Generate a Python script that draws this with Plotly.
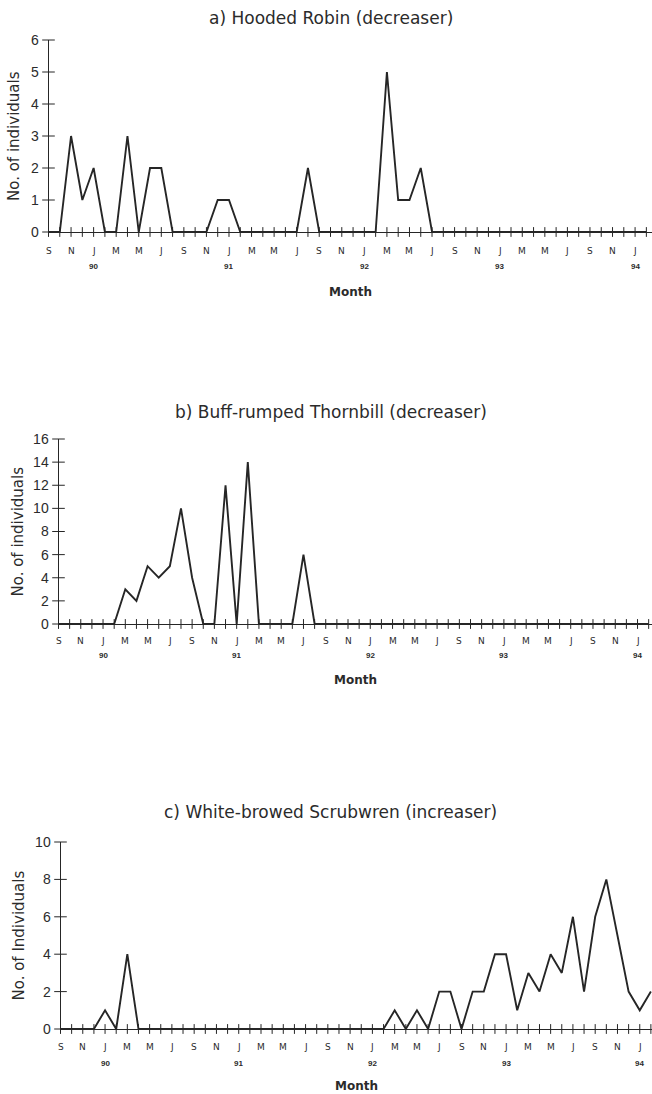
import plotly.graph_objects as go

# Monthly counts, September 1989 .. February 1994 (54 months)
n_months = 54
month_index = list(range(n_months))
month_letters = ["S", "N", "J", "M", "M", "J", "S", "N", "J", "M", "M", "J",
                 "S", "N", "J", "M", "M", "J", "S", "N", "J", "M", "M", "J",
                 "S", "N", "J"]
year_labels = ["90", "91", "92", "93", "94"]
year_positions = [4, 16, 28, 40, 52]

hooded_robin = [0, 0, 3, 1, 2, 0, 0, 3, 0, 2, 2, 0,
                0, 0, 0, 1, 1, 0, 0, 0, 0, 0, 0, 2,
                0, 0, 0, 0, 0, 0, 5, 1, 1, 2, 0, 0,
                0, 0, 0, 0, 0, 0, 0, 0, 0, 0, 0, 0,
                0, 0, 0, 0, 0, 0]
buff_rumped_thornbill = [0, 0, 0, 0, 0, 0, 3, 2, 5, 4, 5, 10,
                         4, 0, 0, 12, 0, 14, 0, 0, 0, 0, 6, 0,
                         0, 0, 0, 0, 0, 0, 0, 0, 0, 0, 0, 0,
                         0, 0, 0, 0, 0, 0, 0, 0, 0, 0, 0, 0,
                         0, 0, 0, 0, 0, 0]
white_browed_scrubwren = [0, 0, 0, 0, 1, 0, 4, 0, 0, 0, 0, 0,
                          0, 0, 0, 0, 0, 0, 0, 0, 0, 0, 0, 0,
                          0, 0, 0, 0, 0, 0, 1, 0, 1, 0, 2, 2,
                          0, 2, 2, 4, 4, 1, 3, 2, 4, 3, 6, 2,
                          6, 8, 5, 2, 1, 2]

W, H = 652, 1094
INK = "#262626"
TXT = "#2b2b2b"


def py(px):
    return 1 - px / H


panels = [
    dict(title="a) Hooded Robin (decreaser)", ytitle="No. of individuals", data=hooded_robin,
         left=48.5, top=40, bottom=232, ymax=6, ydtick=1, xmax=53.5,
         title_y=18, ytitle_x=14, letters_y=251, years_y=266, month_y=292, month_x=350),
    dict(title="b) Buff-rumped Thornbill (decreaser)", ytitle="No. of individuals", data=buff_rumped_thornbill,
         left=58.5, top=439, bottom=624, ymax=16, ydtick=2, xmax=53.3,
         title_y=412, ytitle_x=17, letters_y=641, years_y=655, month_y=680, month_x=355),
    dict(title="c) White-browed Scrubwren (increaser)", ytitle="No. of Individuals", data=white_browed_scrubwren,
         left=60.5, top=842, bottom=1029, ymax=10, ydtick=2, xmax=53.1,
         title_y=812, ytitle_x=18, letters_y=1047, years_y=1063, month_y=1086, month_x=356),
]

fig = go.Figure()
annotations = []
layout_axes = {}

for k, p in enumerate(panels, start=1):
    xa = "x" if k == 1 else f"x{k}"
    ya = "y" if k == 1 else f"y{k}"
    xkey = "xaxis" if k == 1 else f"xaxis{k}"
    ykey = "yaxis" if k == 1 else f"yaxis{k}"
    yticks = list(range(0, p["ymax"] + 1, p["ydtick"]))

    # data line
    fig.add_trace(go.Scatter(x=month_index, y=p["data"], mode="lines",
                             line=dict(color=INK, width=1.9), xaxis=xa, yaxis=ya,
                             showlegend=False, hoverinfo="skip"))
    # cross-shaped monthly ticks on the x axis
    fig.add_trace(go.Scatter(x=month_index, y=[0] * n_months, mode="markers",
                             marker=dict(symbol="line-ns", size=7,
                                         line=dict(color=INK, width=1)),
                             cliponaxis=False, xaxis=xa, yaxis=ya,
                             showlegend=False, hoverinfo="skip"))
    # cross-shaped ticks on the y axis
    fig.add_trace(go.Scatter(x=[0] * len(yticks), y=yticks, mode="markers",
                             marker=dict(symbol="line-ew", size=9,
                                         line=dict(color=INK, width=1)),
                             cliponaxis=False, xaxis=xa, yaxis=ya,
                             showlegend=False, hoverinfo="skip"))

    layout_axes[xkey] = dict(domain=[p["left"] / W, 1], range=[0, p["xmax"]],
                             showline=True, linecolor=INK, linewidth=1,
                             showgrid=False, zeroline=False, ticks="",
                             showticklabels=False, anchor=ya, fixedrange=True,
                             automargin=False)
    layout_axes[ykey] = dict(domain=[py(p["bottom"]), py(p["top"])],
                             range=[0, p["ymax"]], tickvals=yticks,
                             showline=True, linecolor=INK, linewidth=1,
                             showgrid=False, zeroline=False, ticks="",
                             ticklabelstandoff=6,
                             tickfont=dict(family="Liberation Sans", size=14, color=TXT),
                             anchor=xa, fixedrange=True, automargin=False)

    # panel title
    annotations.append(dict(text=p["title"], x=0.507, y=py(p["title_y"]),
                            xref="paper", yref="paper", xanchor="center", yanchor="middle",
                            showarrow=False,
                            font=dict(family="DejaVu Sans", size=17, color=TXT)))
    # y title
    annotations.append(dict(text=p["ytitle"], x=p["ytitle_x"] / W,
                            y=py((p["top"] + p["bottom"]) / 2),
                            xref="paper", yref="paper", xanchor="center", yanchor="middle",
                            textangle=-90, showarrow=False,
                            font=dict(family="DejaVu Sans", size=15, color=TXT)))
    # month letters (every second month)
    for j, letter in enumerate(month_letters):
        annotations.append(dict(text=letter, x=month_index[2 * j], y=py(p["letters_y"]),
                                xref=xa, yref="paper", xanchor="center", yanchor="middle",
                                showarrow=False,
                                font=dict(family="DejaVu Sans", size=9, color=TXT)))
    # year labels
    for yl, pos in zip(year_labels, year_positions):
        annotations.append(dict(text=f"<b>{yl}</b>", x=month_index[pos], y=py(p["years_y"]),
                                xref=xa, yref="paper", xanchor="center", yanchor="middle",
                                showarrow=False,
                                font=dict(family="Liberation Sans", size=8, color=TXT)))
    # x title
    annotations.append(dict(text="<b>Month</b>", x=p["month_x"] / W, y=py(p["month_y"]),
                            xref="paper", yref="paper", xanchor="center", yanchor="middle",
                            showarrow=False,
                            font=dict(family="DejaVu Sans", size=12, color=TXT)))

fig.update_layout(template="none", width=W, height=H,
                  margin=dict(l=0, r=0, t=0, b=0, autoexpand=False),
                  paper_bgcolor="white", plot_bgcolor="white",
                  annotations=annotations, showlegend=False, **layout_axes)

fig.write_html("out.html", config={"displayModeBar": False},
               post_script="document.body.style.margin='0px';"
                           "document.body.style.overflow='hidden';")
